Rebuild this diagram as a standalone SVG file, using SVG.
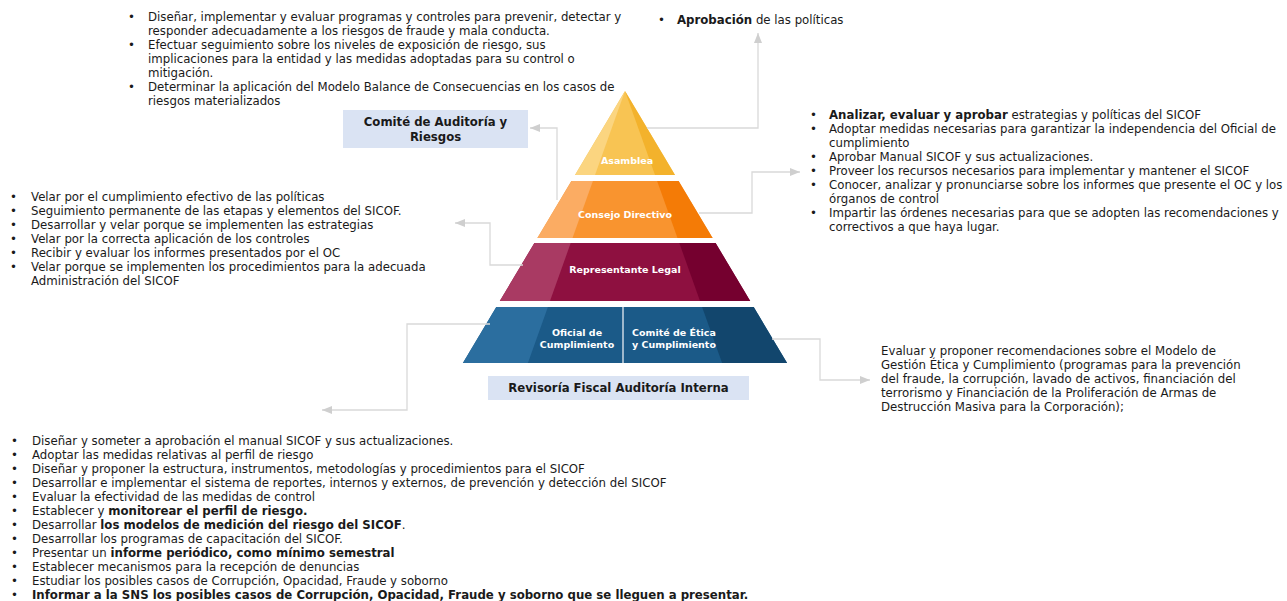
<svg xmlns="http://www.w3.org/2000/svg" width="1287" height="601" viewBox="0 0 1287 601">
<defs>
<style>
.t{font-family:"DejaVu Sans",Verdana,sans-serif;font-size:11.75px;fill:#1a1a1a}
.b{font-weight:bold}
.lbl{font-family:"DejaVu Sans",Verdana,sans-serif;font-size:9.5px;font-weight:bold;fill:#ffffff;text-anchor:middle}
.box{fill:#dae3f3}
.bt{font-family:"DejaVu Sans",Verdana,sans-serif;font-size:11.7px;font-weight:bold;fill:#1a1a1a;text-anchor:middle}
.con{fill:none;stroke:#d9d9d9;stroke-width:1.3}
</style>
<marker id="arr" markerUnits="userSpaceOnUse" markerWidth="10" markerHeight="8" refX="10" refY="4" orient="auto">
<path d="M0,0 L10,4 L0,8 z" fill="#cfcfcf"/>
</marker>
</defs>
<rect width="1287" height="601" fill="#ffffff"/>

<g id="pyramid">
<g id="asamblea">
<polygon points="625,91 575,175 675,175" fill="#f8c453"/>
<polygon points="625,91 575,175 595,175" fill="#fbd580"/>
<polygon points="625,91 655,175 675,175" fill="#f3b22c"/>
<text class="lbl" x="627" y="164">Asamblea</text>
</g>
<g id="consejo">
<polygon points="571.4,181 678.6,181 712.6,238 537.4,238" fill="#f9942f"/>
<polygon points="571.4,181 592.9,181 572.5,238 537.4,238" fill="#fbac63"/>
<polygon points="657.1,181 678.6,181 712.6,238 677.5,238" fill="#f47b06"/>
<text class="lbl" x="625" y="218">Consejo Directivo</text>
</g>
<g id="representante">
<polygon points="534.4,243 715.6,243 750.2,301 499.8,301" fill="#8e1040"/>
<polygon points="534.4,243 570.7,243 550,301 499.8,301" fill="#a93a63"/>
<polygon points="679.3,243 715.6,243 750.2,301 700,301" fill="#75002f"/>
<text class="lbl" x="625" y="273">Representante Legal</text>
</g>
<g id="base">
<polygon points="496.3,307 753.7,307 787.1,363 462.9,363" fill="#1b5a88"/>
<polygon points="496.3,307 547.9,307 527.9,363 462.9,363" fill="#2b6e9f"/>
<polygon points="702.1,307 753.7,307 787.1,363 722.1,363" fill="#12466d"/>
<line x1="623" y1="307" x2="623" y2="363" stroke="#e6ecf2" stroke-width="1.3"/>
</g>
<g id="oficial">
<text class="lbl" x="577" y="336">Oficial de</text>
<text class="lbl" x="577" y="348">Cumplimiento</text>
</g>
<g id="comite-etica">
<text class="lbl" x="674" y="336">Comité de Ética</text>
<text class="lbl" x="674" y="348">y Cumplimiento</text>
</g>
</g>

<g id="comite-auditoria">
<rect class="box" x="343" y="110" width="185" height="38"/>
<text class="bt" x="435.5" y="126">Comité de Auditoría y</text>
<text class="bt" x="435.5" y="141">Riesgos</text>
</g>

<g id="revisoria">
<rect class="box" x="488" y="376" width="261" height="24"/>
<text class="bt" x="618.5" y="392">Revisoría Fiscal Auditoría Interna</text>
</g>

<g id="connectors">
<path class="con" d="M647,128 H758 V33" marker-end="url(#arr)"/>
<path class="con" d="M699,213 H752 V172 H800" marker-end="url(#arr)"/>
<path class="con" d="M557,200 V128 H530" marker-end="url(#arr)"/>
<path class="con" d="M523,265 H490 V223 H455" marker-end="url(#arr)"/>
<path class="con" d="M490,324 H407 V410 H322" marker-end="url(#arr)"/>
<path class="con" d="M772,339 H820 V380 H870" marker-end="url(#arr)"/>
</g>

<g id="text-comite-auditoria">
<text class="t" x="128" y="21">•</text>
<text class="t" x="128" y="49">•</text>
<text class="t" x="128" y="91">•</text>
<text class="t" x="148" y="21">Diseñar, implementar y evaluar programas y controles para prevenir, detectar y</text>
<text class="t" x="148" y="35">responder adecuadamente a los riesgos de fraude y mala conducta.</text>
<text class="t" x="148" y="49">Efectuar seguimiento sobre los niveles de exposición de riesgo, sus</text>
<text class="t" x="148" y="63">implicaciones para la entidad y las medidas adoptadas para su control o</text>
<text class="t" x="148" y="77">mitigación.</text>
<text class="t" x="148" y="91">Determinar la aplicación del Modelo Balance de Consecuencias en los casos de</text>
<text class="t" x="148" y="105">riesgos materializados</text>
</g>

<g id="text-asamblea">
<text class="t" x="658" y="24">•</text>
<text class="t" x="677" y="24"><tspan class="b">Aprobación</tspan> de las políticas</text>
</g>

<g id="text-consejo">
<text class="t" x="810" y="119">•</text>
<text class="t" x="810" y="133">•</text>
<text class="t" x="810" y="161">•</text>
<text class="t" x="810" y="175">•</text>
<text class="t" x="810" y="189">•</text>
<text class="t" x="810" y="217">•</text>
<text class="t" x="829" y="119"><tspan class="b">Analizar, evaluar y aprobar</tspan> estrategias y políticas del SICOF</text>
<text class="t" x="829" y="133">Adoptar medidas necesarias para garantizar la independencia del Oficial de</text>
<text class="t" x="829" y="147">cumplimiento</text>
<text class="t" x="829" y="161">Aprobar Manual SICOF y sus actualizaciones.</text>
<text class="t" x="829" y="175">Proveer los recursos necesarios para implementar y mantener el SICOF</text>
<text class="t" x="829" y="189">Conocer, analizar y pronunciarse sobre los informes que presente el OC y los</text>
<text class="t" x="829" y="203">órganos de control</text>
<text class="t" x="829" y="217">Impartir las órdenes necesarias para que se adopten las recomendaciones y</text>
<text class="t" x="829" y="231">correctivos a que haya lugar.</text>
</g>

<g id="text-representante">
<text class="t" x="10" y="201">•</text>
<text class="t" x="10" y="215">•</text>
<text class="t" x="10" y="229">•</text>
<text class="t" x="10" y="243">•</text>
<text class="t" x="10" y="257">•</text>
<text class="t" x="10" y="271">•</text>
<text class="t" x="31" y="201">Velar por el cumplimiento efectivo de las políticas</text>
<text class="t" x="31" y="215">Seguimiento permanente de las etapas y elementos del SICOF.</text>
<text class="t" x="31" y="229">Desarrollar y velar porque se implementen las estrategias</text>
<text class="t" x="31" y="243">Velar por la correcta aplicación de los controles</text>
<text class="t" x="31" y="257">Recibir y evaluar los informes presentados por el OC</text>
<text class="t" x="31" y="271">Velar porque se implementen los procedimientos para la adecuada</text>
<text class="t" x="31" y="285">Administración del SICOF</text>
</g>

<g id="text-comite-etica">
<text class="t" x="881" y="355">Evaluar y proponer recomendaciones sobre el Modelo de</text>
<text class="t" x="881" y="369">Gestión Ética y Cumplimiento (programas para la prevención</text>
<text class="t" x="881" y="383">del fraude, la corrupción, lavado de activos, financiación del</text>
<text class="t" x="881" y="397">terrorismo y Financiación de la Proliferación de Armas de</text>
<text class="t" x="881" y="411">Destrucción Masiva para la Corporación);</text>
</g>

<g id="text-oficial">
<text class="t" x="11" y="445">•</text>
<text class="t" x="11" y="459">•</text>
<text class="t" x="11" y="473">•</text>
<text class="t" x="11" y="487">•</text>
<text class="t" x="11" y="501">•</text>
<text class="t" x="11" y="515">•</text>
<text class="t" x="11" y="529">•</text>
<text class="t" x="11" y="543">•</text>
<text class="t" x="11" y="557">•</text>
<text class="t" x="11" y="571">•</text>
<text class="t" x="11" y="585">•</text>
<text class="t" x="11" y="599">•</text>
<text class="t" x="32" y="445">Diseñar y someter a aprobación el manual SICOF y sus actualizaciones.</text>
<text class="t" x="32" y="459">Adoptar las medidas relativas al perfil de riesgo</text>
<text class="t" x="32" y="473">Diseñar y proponer la estructura, instrumentos, metodologías y procedimientos para el SICOF</text>
<text class="t" x="32" y="487">Desarrollar e implementar el sistema de reportes, internos y externos, de prevención y detección del SICOF</text>
<text class="t" x="32" y="501">Evaluar la efectividad de las medidas de control</text>
<text class="t" x="32" y="515">Establecer y <tspan class="b">monitorear el perfil de riesgo.</tspan></text>
<text class="t" x="32" y="529">Desarrollar <tspan class="b">los modelos de medición del riesgo del SICOF</tspan>.</text>
<text class="t" x="32" y="543">Desarrollar los programas de capacitación del SICOF.</text>
<text class="t" x="32" y="557">Presentar un <tspan class="b">informe periódico, como mínimo semestral</tspan></text>
<text class="t" x="32" y="571">Establecer mecanismos para la recepción de denuncias</text>
<text class="t" x="32" y="585">Estudiar los posibles casos de Corrupción, Opacidad, Fraude y soborno</text>
<text class="t b" x="32" y="599">Informar a la SNS los posibles casos de Corrupción, Opacidad, Fraude y soborno que se lleguen a presentar.</text>
</g>
</svg>
